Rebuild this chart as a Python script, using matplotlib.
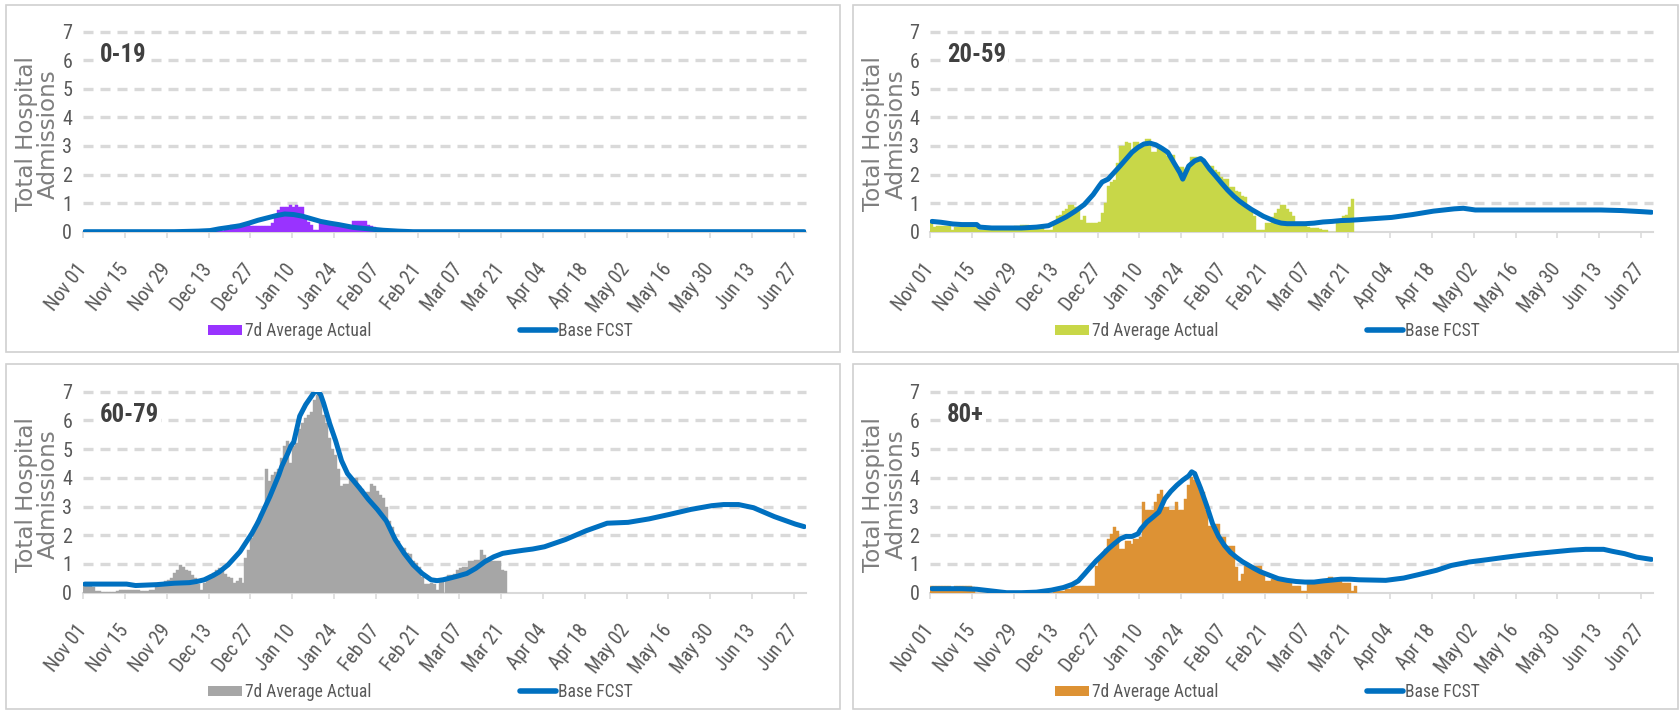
import matplotlib
matplotlib.use("Agg")
import matplotlib.pyplot as plt
from matplotlib import font_manager
from matplotlib.font_manager import FontProperties
from matplotlib.patches import Rectangle, Patch
from matplotlib.lines import Line2D

# ---------------- data ----------------
tick_days = [0, 14, 28, 42, 56, 70, 84, 98, 112, 126, 140, 154, 168, 182, 196, 210, 224, 238]
tick_labels = ["Nov 01", "Nov 15", "Nov 29", "Dec 13", "Dec 27", "Jan 10", "Jan 24", "Feb 07",
               "Feb 21", "Mar 07", "Mar 21", "Apr 04", "Apr 18", "May 02", "May 16", "May 30",
               "Jun 13", "Jun 27"]
n_days = 242  # Nov 01 .. Jun 30

# daily 7d-average actuals (day 0 = Nov 01)
actual_0_19 = [
    0, 0, 0, 0, 0, 0, 0, 0, 0, 0,
    0, 0, 0, 0, 0, 0, 0, 0, 0, 0,
    0, 0, 0, 0, 0, 0, 0, 0, 0, 0,
    0, 0, 0, 0, 0, 0, 0, 0, 0, 0,
    0, 0, 0.03, 0.03, 0.03, 0.03, 0.03, 0.05, 0.05, 0.25,
    0.25, 0.25, 0.25, 0.25, 0.25, 0.25, 0.2, 0.2, 0.2, 0.2,
    0.2, 0.2, 0.2, 0.3, 0.6, 0.75, 0.85, 0.85, 0.85, 0.95,
    0.85, 0.95, 0.85, 0.85, 0.45, 0.35, 0.25, 0.07, 0.07, 0.3,
    0.3, 0.3, 0.3, 0.2, 0.2, 0.2, 0.2, 0.2, 0.2, 0.2,
    0.36, 0.36, 0.36, 0.36, 0.36, 0.25, 0.2, 0.15, 0.1, 0.05,
    0, 0, 0, 0, 0, 0, 0, 0, 0, 0,
    0, 0, 0, 0, 0, 0, 0, 0, 0, 0,
    0, 0, 0, 0, 0, 0, 0, 0, 0, 0,
    0, 0, 0, 0, 0, 0, 0, 0, 0, 0,
    0, 0]

actual_20_59 = [
    0.35, 0.15, 0.2, 0.2, 0.2, 0.2, 0.2, 0.07, 0.18, 0.18,
    0.18, 0.18, 0.18, 0.2, 0.2, 0.15, 0.05, 0.05, 0.05, 0.05,
    0.05, 0.05, 0.05, 0.05, 0.05, 0.05, 0.05, 0.05, 0.2, 0.2,
    0.22, 0.22, 0.22, 0.2, 0.2, 0.2, 0.2, 0.15, 0.07, 0.07,
    0.07, 0.3, 0.55, 0.6, 0.72, 0.8, 0.95, 0.95, 0.85, 0.8,
    0.42, 0.55, 0.3, 0.3, 0.3, 0.3, 0.35, 0.65, 1.0, 1.6,
    1.75, 1.8, 2.42, 3.0, 3.0, 3.15, 3.1, 2.8, 3.15, 3.15,
    3.0, 3.0, 3.25, 3.25, 2.8, 2.8, 2.95, 2.85, 2.85, 2.65,
    2.7, 2.7, 2.2, 2.25, 2.25, 2.2, 2.2, 2.6, 2.6, 2.6,
    2.6, 2.55, 2.3, 2.3, 2.3, 2.15, 2.1, 1.9, 1.85, 1.85,
    1.55, 1.55, 1.42, 1.4, 1.25, 1.2, 0.85, 0.7, 0.55, 0.07,
    0.07, 0.07, 0.3, 0.3, 0.5, 0.65, 0.8, 0.95, 0.95, 0.8,
    0.7, 0.55, 0.3, 0.2, 0.2, 0.2, 0.15, 0.13, 0.13, 0.13,
    0.1, 0.07, 0.05, 0, 0, 0, 0.35, 0.4, 0.55, 0.6,
    0.85, 1.13]

actual_60_79 = [
    0.3, 0.3, 0.25, 0.2, 0.05, 0.05, 0.02, 0.02, 0.02, 0.02,
    0.02, 0.05, 0.08, 0.08, 0.08, 0.08, 0.08, 0.08, 0.08, 0.05,
    0.05, 0.05, 0.08, 0.1, 0.2, 0.3, 0.35, 0.4, 0.45, 0.5,
    0.7, 0.8, 0.95, 0.9, 0.8, 0.75, 0.6, 0.5, 0.3, 0.1,
    0.35, 0.45, 0.6, 0.7, 0.8, 0.85, 0.75, 0.65, 0.55, 0.5,
    0.35, 0.4, 0.5, 0.35, 1.2, 1.5, 1.9, 2.3, 2.5, 2.75,
    2.9, 4.3, 3.9, 4.1, 4.2, 4.3, 4.7, 5.1, 5.3, 4.5,
    5.1, 5.2, 5.7, 5.9, 6.1, 6.2, 6.3, 6.7, 6.9, 6.8,
    6.2, 5.9, 5.4, 5.0, 4.8, 4.3, 3.7, 3.8, 3.8, 4.0,
    4.0, 4.0, 3.7, 3.6, 3.5, 3.5, 3.8, 3.7, 3.55, 3.4,
    3.3, 3.0, 2.5, 2.3, 1.9, 1.8, 1.6, 1.55, 1.4, 1.35,
    1.1, 1.05, 0.9, 0.55, 0.3, 0.3, 0.35, 0.3, 0.1, 0.4,
    0.45, 0.5, 0.6, 0.6, 0.65, 0.8, 0.85, 0.9, 0.9, 1.1,
    1.1, 1.15, 1.15, 1.5, 1.3, 1.1, 1.1, 1.1, 1.1, 1.1,
    0.8, 0.75]

actual_80p = [
    0.23, 0.23, 0.23, 0.23, 0.23, 0.23, 0.23, 0.1, 0.23, 0.23,
    0.23, 0.23, 0.23, 0.23, 0.2, 0, 0, 0, 0, 0,
    0, 0, 0, 0, 0, 0, 0, 0, 0, 0,
    0, 0, 0, 0, 0, 0, 0, 0, 0, 0,
    0, 0.05, 0.05, 0.05, 0.05, 0.12, 0.12, 0.23, 0.23, 0.23,
    0.25, 0.25, 0.25, 0.25, 0.25, 0.93, 1.17, 1.35, 1.52, 1.87,
    2.05, 2.28, 2.16, 1.52, 1.52, 1.81, 1.81, 1.7, 1.87, 1.87,
    1.93, 3.16, 2.87, 2.87, 2.87, 3.16, 3.45, 3.57, 2.98, 2.98,
    2.87, 2.87, 3.16, 2.87, 2.87, 3.27, 3.74, 4.03, 3.92, 3.92,
    3.5, 3.5, 2.87, 2.34, 2.34, 2.4, 2.4, 1.93, 1.93, 1.64,
    1.64, 1.64, 0.88, 0.41, 0.64, 0.94, 0.94, 0.94, 0.94, 0.94,
    0.94, 0.64, 0.41, 0.41, 0.47, 0.47, 0.47, 0.47, 0.41, 0.41,
    0.41, 0.23, 0.23, 0.23, 0.06, 0.06, 0.3, 0.3, 0.3, 0.35,
    0.35, 0.35, 0.35, 0.53, 0.53, 0.41, 0.41, 0.41, 0.35, 0.35,
    0.35, 0.06, 0.23]

# Base forecast, read at key days
fcst_days_0_19 = [0, 30, 38, 42, 45, 49, 52, 55, 58, 61, 64, 67, 70, 73, 76, 79, 82, 85, 88, 90,
                  95, 100, 105, 110, 241]
fcst_vals_0_19 = [0.0, 0.0, 0.02, 0.04, 0.1, 0.16, 0.21, 0.3, 0.4, 0.48, 0.56, 0.62, 0.6, 0.54,
                  0.45, 0.36, 0.3, 0.25, 0.19, 0.15, 0.1, 0.05, 0.02, 0.0, 0.0]

fcst_days_20_59 = [0, 3, 7, 10, 15, 16, 20, 30, 35, 39, 42, 45, 48, 51, 54, 56, 57, 59, 61, 63,
                   65, 67, 69, 71, 73, 75, 77, 79, 81, 83, 84, 86, 88, 90, 91, 93, 95, 97, 99,
                   101, 103, 105, 107, 109, 111, 113, 115, 117, 119, 125, 128, 131, 134, 137,
                   140, 143, 147, 154, 161, 168, 175, 178, 182, 196, 210, 224, 231, 238, 241]
fcst_vals_20_59 = [0.36, 0.33, 0.27, 0.25, 0.25, 0.16, 0.13, 0.13, 0.16, 0.21, 0.36, 0.52, 0.72,
                   0.95, 1.3, 1.6, 1.74, 1.84, 2.07, 2.3, 2.54, 2.78, 2.95, 3.07, 3.1, 3.04, 2.92,
                   2.78, 2.42, 2.07, 1.84, 2.3, 2.48, 2.56, 2.48, 2.19, 1.95, 1.7, 1.46, 1.25,
                   1.07, 0.92, 0.78, 0.66, 0.54, 0.45, 0.36, 0.3, 0.28, 0.28, 0.3, 0.34, 0.36,
                   0.39, 0.4, 0.42, 0.45, 0.5, 0.6, 0.72, 0.8, 0.82, 0.76, 0.76, 0.76, 0.76,
                   0.74, 0.7, 0.68]

fcst_days_60_79 = [0, 7, 14, 17, 24, 30, 35, 38, 40, 43, 45, 48, 50, 52, 54, 56, 58, 60, 62, 63,
                   65, 66, 68, 69, 70, 71, 72, 74, 76, 77, 78, 79, 80, 82, 84, 86, 88, 90, 92,
                   95, 98, 101, 104, 107, 110, 113, 116, 118, 120, 122, 125, 128, 131, 134, 137,
                   140, 143, 147, 150, 154, 161, 168, 175, 182, 189, 196, 203, 210, 214, 219,
                   224, 231, 238, 241]
fcst_vals_60_79 = [0.3, 0.3, 0.3, 0.25, 0.28, 0.33, 0.35, 0.4, 0.45, 0.6, 0.72, 0.97, 1.2, 1.43,
                   1.75, 2.07, 2.45, 2.9, 3.35, 3.6, 4.1, 4.4, 4.85, 5.1, 5.25, 5.7, 6.15, 6.55,
                   6.85, 7.0, 7.0, 6.9, 6.6, 5.9, 5.3, 4.6, 4.15, 3.9, 3.65, 3.25, 2.9, 2.5,
                   1.85, 1.37, 0.97, 0.67, 0.45, 0.42, 0.45, 0.5, 0.58, 0.67, 0.85, 1.08, 1.25,
                   1.37, 1.42, 1.48, 1.52, 1.6, 1.85, 2.16, 2.42, 2.45, 2.57, 2.73, 2.9, 3.03,
                   3.07, 3.07, 2.96, 2.65, 2.39, 2.3]

fcst_days_80p = [0, 10, 15, 20, 25, 30, 35, 40, 44, 47, 49, 51, 53, 55, 57, 59, 61, 63, 65, 67,
                 69, 70, 72, 74, 76, 77, 78, 80, 82, 84, 86, 87, 88, 90, 92, 94, 96, 98, 100,
                 102, 104, 106, 108, 110, 113, 116, 119, 122, 125, 128, 131, 134, 137, 140, 143,
                 152, 158, 163, 169, 174, 180, 186, 191, 197, 202, 208, 214, 219, 225, 228, 232,
                 236, 241]
fcst_vals_80p = [0.14, 0.14, 0.12, 0.06, 0.0, 0.0, 0.02, 0.09, 0.18, 0.29, 0.41, 0.64, 0.88,
                 1.11, 1.31, 1.52, 1.7, 1.87, 1.96, 1.96, 2.05, 2.22, 2.46, 2.63, 2.81, 3.04,
                 3.27, 3.53, 3.74, 3.92, 4.07, 4.21, 4.15, 3.63, 3.04, 2.4, 1.96, 1.64, 1.4,
                 1.23, 1.08, 0.96, 0.84, 0.73, 0.61, 0.49, 0.43, 0.39, 0.37, 0.37, 0.41, 0.44,
                 0.47, 0.47, 0.45, 0.43, 0.51, 0.63, 0.78, 0.95, 1.07, 1.15, 1.22, 1.3, 1.36,
                 1.42, 1.48, 1.51, 1.51, 1.44, 1.36, 1.24, 1.16]

panel_titles = ["0-19", "20-59", "60-79", "80+"]
bar_colors = ["#9933FF", "#C8D748", "#A6A6A6", "#DD9234"]
legend_labels = ["7d Average Actual", "Base FCST"]
y_label = "Total Hospital\nAdmissions"

# ---------------- fonts ----------------
W, H = 1681, 711


def _w(w):
    if isinstance(w, (int, float)):
        return int(w)
    s = str(w).lower()
    if s.isdigit():
        return int(s)
    return {"bold": 700, "heavy": 800, "black": 900, "semibold": 600, "demibold": 600}.get(s, 400)


def pick(cands, bold=False):
    for c in cands:
        ws = [_w(f.weight) for f in font_manager.fontManager.ttflist if f.name == c]
        if not ws:
            continue
        if bold and not any(w >= 700 for w in ws):
            continue
        return c
    return "Liberation Sans"


NARROW_CANDS = ["Liberation Sans Narrow", "Arial Narrow", "Roboto Condensed", "Archivo Narrow",
                "PT Sans Narrow", "Asap Condensed", "Sofia Sans Condensed"]
REG = pick(NARROW_CANDS)
BOLD = pick(NARROW_CANDS, bold=True)
plt.rcParams["font.family"] = [REG, "DejaVu Sans"]

fig = plt.figure(figsize=(W / 100, H / 100), dpi=100)
fig.patch.set_facecolor("white")
renderer = fig.canvas.get_renderer()


def fit(text, target_px, family, weight="normal"):
    fp = FontProperties(family=family, weight=weight, size=20)
    w, _, _ = renderer.get_text_width_height_descent(text, fp, ismath=False)
    return 20 * target_px / w


XTICK_FS = fit("Nov 01", 54, REG)
YTICK_FS = fit("0", 10, REG)
LEG_FS = fit("7d Average Actual", 126, REG)
TITLE_FS = fit("60-79", 59, BOLD, "bold")
YLAB_FS = fit("Total Hospital", 155, "DejaVu Sans")

LINE_BLUE = "#0070C0"
GRID = "#D9D9D9"
TXT = "#595959"


def frac_rect(x0, y0, x1, y1):
    return [x0 / W, 1 - y1 / H, (x1 - x0) / W, (y1 - y0) / H]


# panel boxes (pixels: x0, y0, x1, y1 from top-left)
boxes = [(6, 5, 840, 352), (853, 5, 1678, 352), (6, 364, 840, 709), (853, 364, 1678, 709)]
for (x0, y0, x1, y1) in boxes:
    fig.add_artist(Rectangle((x0 / W, 1 - y1 / H), (x1 - x0) / W, (y1 - y0) / H,
                             transform=fig.transFigure, fill=False, edgecolor="#D0D0D0",
                             linewidth=1.2))

ax_left = [83.3, 930.5, 83.3, 930.5]
ax_top = [31.7, 31.7, 391.7, 391.7]
ax_bottom = [231.7, 231.7, 592.7, 592.7]
ax_width = 722.4

actuals = [actual_0_19, actual_20_59, actual_60_79, actual_80p]
fc_days = [fcst_days_0_19, fcst_days_20_59, fcst_days_60_79, fcst_days_80p]
fc_vals = [fcst_vals_0_19, fcst_vals_20_59, fcst_vals_60_79, fcst_vals_80p]

for i in range(4):
    L, T, B = ax_left[i], ax_top[i], ax_bottom[i]
    ax = fig.add_axes(frac_rect(L, T, L + ax_width, B))
    ax.set_facecolor("none")
    ax.set_xlim(0, n_days)
    ax.set_ylim(0, 7)

    for gy in range(1, 8):
        ax.axhline(gy, color=GRID, lw=2.4, linestyle=(0, (3, 2.1)), zorder=0.5, clip_on=False)

    act = actuals[i]
    ax.bar([d + 0.5 for d in range(len(act))], act, width=1.0, color=bar_colors[i],
           edgecolor=bar_colors[i], linewidth=0.3, zorder=2)
    ax.plot([d + 0.5 for d in fc_days[i]], fc_vals[i], color=LINE_BLUE, lw=3.6,
            solid_capstyle="round", solid_joinstyle="round", zorder=3)

    for s in ["top", "left", "right"]:
        ax.spines[s].set_visible(False)
    ax.spines["bottom"].set_color(GRID)
    ax.spines["bottom"].set_linewidth(1.5)
    ax.spines["bottom"].set_zorder(1)

    ax.set_yticks(range(8))
    ax.set_yticklabels([str(v) for v in range(8)])
    ax.tick_params(axis="y", length=0, pad=8, labelsize=YTICK_FS, labelcolor=TXT)
    ax.set_xticks(tick_days)
    ax.set_xticklabels(tick_labels, rotation=52, ha="right", va="center",
                       rotation_mode="anchor")
    ax.tick_params(axis="x", length=4.3, width=1.1, color=GRID, direction="out",
                   pad=20.5, labelsize=XTICK_FS, labelcolor=TXT)

    ax.text(16.7 / ax_width, 0.883, panel_titles[i], transform=ax.transAxes,
            fontsize=TITLE_FS, fontweight="bold", family=[BOLD, "DejaVu Sans"],
            color="#404040", ha="left", va="center",
            bbox=dict(facecolor="white", edgecolor="none", pad=1.5), zorder=4)

    fig.text((L - 45.6) / W, 1 - ((T + B) / 2 + 2) / H, y_label, rotation=90, ha="center",
             va="center", multialignment="center", fontsize=YLAB_FS, color="#7F7F7F",
             family="DejaVu Sans", linespacing=0.95)

    leg_y = 1 - (B + 99.5) / H
    px_per_fs = LEG_FS * 100 / 72
    leg1 = ax.legend(handles=[Patch(facecolor=bar_colors[i], edgecolor="none")],
                     labels=[legend_labels[0]], loc="center left",
                     bbox_to_anchor=((L + 125) / W, leg_y), bbox_transform=fig.transFigure,
                     frameon=False, borderpad=0, borderaxespad=0,
                     handlelength=34 / px_per_fs, handleheight=10 / px_per_fs,
                     handletextpad=3 / px_per_fs, fontsize=LEG_FS, labelcolor=TXT)
    ax.add_artist(leg1)
    ax.legend(handles=[Line2D([], [], color=LINE_BLUE, lw=4, solid_capstyle="round")],
              labels=[legend_labels[1]], loc="center left",
              bbox_to_anchor=((L + 437) / W, leg_y), bbox_transform=fig.transFigure,
              frameon=False, borderpad=0, borderaxespad=0,
              handlelength=36 / px_per_fs, handletextpad=2 / px_per_fs,
              fontsize=LEG_FS, labelcolor=TXT)

fig.savefig("out.png", dpi=100, facecolor="white")
